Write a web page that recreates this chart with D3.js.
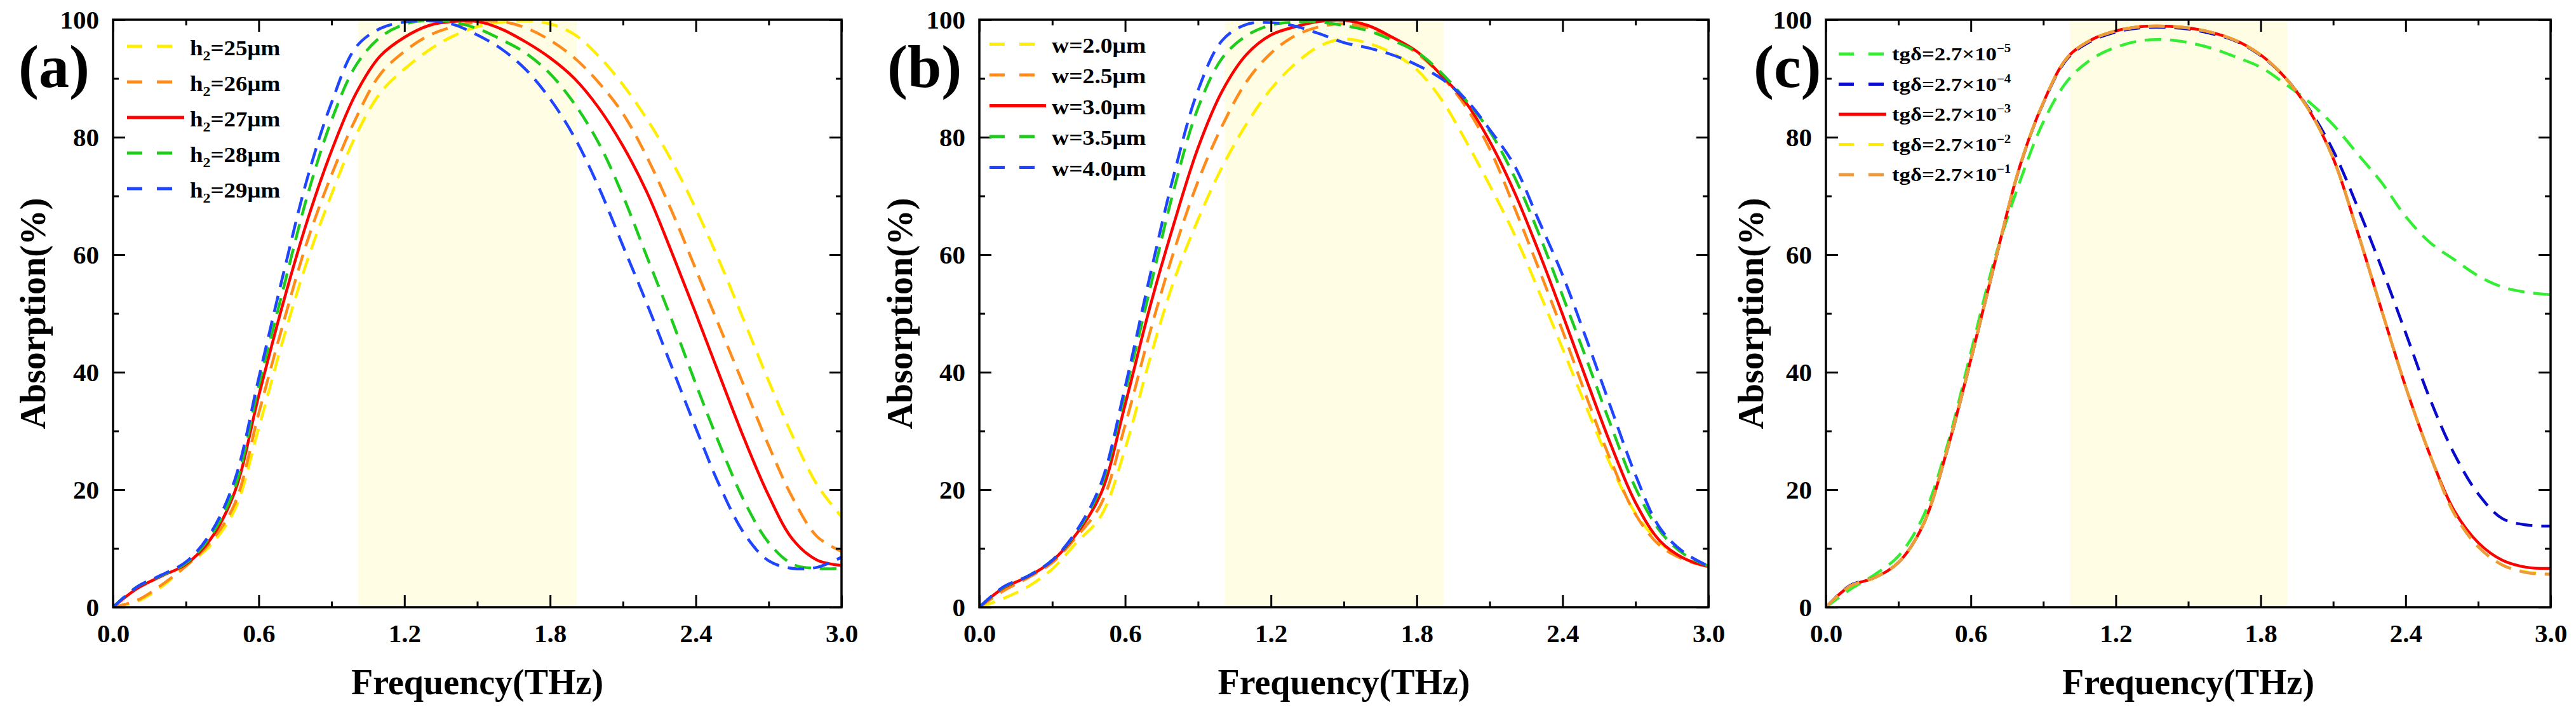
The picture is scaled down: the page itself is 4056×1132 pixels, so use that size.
<!DOCTYPE html>
<html>
<head>
<meta charset="utf-8">
<script src="https://cdn.jsdelivr.net/npm/d3@7"></script>
<style>
  body { margin: 0; background: #fff; }
</style>
</head>
<body>
<svg id="chart"></svg>
<script>
// frequency grid (THz) shared by every curve
var FREQ = [0, 0.1, 0.2, 0.3, 0.4, 0.5, 0.6, 0.7, 0.8, 0.9, 1.0, 1.1, 1.2, 1.3, 1.4, 1.5,
    1.6, 1.7, 1.8, 1.9, 2.0, 2.1, 2.2, 2.3, 2.4, 2.5, 2.6, 2.7, 2.8, 2.9, 3.0];
var X_TICKS = [0, 0.6, 1.2, 1.8, 2.4, 3.0];
var X_MINOR = [0.3, 0.9, 1.5, 2.1, 2.7];
var Y_TICKS = [0, 20, 40, 60, 80, 100];
var Y_MINOR = [10, 30, 50, 70, 90];
var BAND = [1.01, 1.91];

/* (a) thickness h2 */
var A_LABELS = ["h_{2}=25μm", "h_{2}=26μm", "h_{2}=27μm", "h_{2}=28μm", "h_{2}=29μm"];
var A_H25 = [0, 1.0, 3.5, 7.0, 10.5, 16.5, 30.5, 45.5, 59.0, 70.3, 80.3, 87.5, 91.6, 94.8, 97.2, 98.8,
    99.6, 99.8, 99.3, 97.5, 93.8, 88.9, 83.0, 76.0, 67.8, 58.6, 48.6, 38.5, 29.0, 20.8, 15.4];
var A_H26 = [0, 1.2, 3.8, 7.0, 11.0, 17.5, 33.0, 48.2, 62.3, 73.6, 83.2, 90.7, 94.6, 97.3, 98.8, 99.6,
    99.7, 98.6, 96.5, 93.5, 89.3, 84.0, 76.5, 67.5, 57.5, 47.5, 37.5, 27.5, 18.5, 12.0, 9.5];
var A_H27 = [0, 3.2, 5.3, 7.3, 11.5, 19.5, 36.0, 51.7, 65.8, 77.7, 87.4, 93.8, 97.0, 99.0, 99.7, 99.7,
    98.4, 96.2, 93.5, 90.0, 85.0, 78.5, 70.5, 60.5, 50.0, 39.2, 28.6, 19.0, 11.5, 8.0, 7.1];
var A_H28 = [0, 3.5, 5.4, 7.5, 12.0, 20.2, 37.7, 54.0, 70.0, 82.9, 92.2, 97.0, 99.2, 99.9, 99.6, 98.5,
    96.6, 94.3, 90.8, 85.7, 79.0, 70.0, 59.5, 49.0, 38.0, 27.5, 18.0, 11.0, 7.3, 6.6, 6.6];
var A_H29 = [0, 3.5, 5.5, 7.7, 12.5, 21.5, 39.0, 56.5, 73.0, 85.9, 95.3, 98.5, 99.6, 99.8, 99.2, 97.4,
    95.0, 91.5, 86.5, 80.0, 71.5, 61.5, 51.5, 41.0, 30.5, 20.5, 12.5, 7.9, 6.6, 6.8, 8.5];

/* (b) width w */
var B_LABELS = ["w=2.0μm", "w=2.5μm", "w=3.0μm", "w=3.5μm", "w=4.0μm"];
var B_W20 = [0, 1.5, 3.5, 6.5, 11.0, 15.5, 27.0, 42.0, 55.5, 66.0, 75.0, 82.3, 88.2, 92.5, 95.5, 96.7,
    96.0, 94.3, 91.5, 86.5, 79.5, 71.8, 63.6, 54.0, 44.0, 33.8, 24.0, 16.0, 11.0, 8.3, 6.9];
var B_W25 = [0, 2.8, 5.0, 7.6, 12.0, 17.5, 31.0, 46.5, 60.5, 72.5, 82.0, 89.5, 94.3, 97.3, 98.8, 99.3,
    98.6, 96.8, 94.3, 90.5, 85.3, 78.0, 68.2, 57.8, 47.0, 35.6, 24.8, 15.8, 10.5, 8.1, 6.9];
var B_W30 = [0, 3.3, 5.2, 7.9, 12.5, 19.3, 34.5, 50.8, 65.2, 78.2, 87.9, 94.1, 97.4, 98.8, 99.7, 99.9,
    99.0, 97.0, 94.6, 90.6, 86.0, 79.3, 70.8, 60.7, 49.8, 38.5, 27.5, 17.8, 11.3, 8.3, 6.9];
var B_W35 = [0, 3.4, 5.3, 8.0, 12.8, 20.5, 36.5, 53.8, 71.0, 85.0, 93.5, 97.3, 99.1, 99.6, 99.6, 99.0,
    98.1, 96.5, 94.5, 91.0, 86.4, 81.0, 73.4, 63.8, 53.0, 42.0, 30.8, 20.3, 13.0, 9.0, 7.0];
var B_W40 = [0, 3.5, 5.3, 8.0, 13.0, 21.0, 37.5, 56.0, 73.5, 88.0, 96.5, 99.2, 99.5, 98.9, 97.6, 96.1,
    95.2, 94.0, 92.3, 90.0, 86.5, 81.3, 75.3, 66.0, 56.5, 45.4, 33.8, 22.5, 13.5, 9.3, 7.0];

/* (c) loss tangent */
var C_LABELS = ["tgδ=2.7×10^{−5}", "tgδ=2.7×10^{−4}", "tgδ=2.7×10^{−3}", "tgδ=2.7×10^{−2}", "tgδ=2.7×10^{−1}"];
var C_T5 = [0, 3.0, 5.5, 8.7, 15.2, 27.2, 43.4, 59.5, 72.1, 82.6, 89.6, 93.3, 95.3, 96.4, 96.6, 96.1,
    95.1, 93.6, 91.9, 89.1, 86.0, 82.1, 77.2, 72.3, 66.5, 62.1, 59.2, 56.4, 54.5, 53.6, 53.2];
var C_T4 = [0, 3.7, 5.0, 7.6, 13.8, 26.4, 42.1, 58.7, 74.6, 85.8, 93.4, 96.4, 97.9, 98.6, 98.7, 98.4,
    97.6, 96.3, 93.9, 90.2, 84.8, 77.7, 68.2, 57.8, 46.7, 35.5, 26.2, 19.3, 15.1, 14.0, 13.8];
var C_T3 = [0, 3.6, 5.0, 7.6, 13.8, 26.5, 42.2, 58.8, 74.7, 85.9, 93.6, 96.6, 98.1, 98.8, 98.9, 98.6,
    97.8, 96.4, 94.0, 90.2, 84.6, 76.4, 64.0, 50.6, 37.5, 26.0, 16.5, 11.0, 8.0, 6.8, 6.6];
var C_T2 = [0, 3.6, 5.0, 7.6, 13.8, 26.5, 42.2, 58.8, 74.7, 85.9, 93.6, 96.6, 98.1, 98.8, 98.9, 98.6,
    97.8, 96.4, 94.0, 90.2, 84.6, 76.4, 64.0, 50.6, 37.5, 26.0, 16.0, 10.3, 7.2, 6.0, 5.7];
var C_T1 = [0, 3.6, 5.0, 7.6, 13.8, 26.5, 42.2, 58.8, 74.7, 85.9, 93.6, 96.6, 98.1, 98.8, 98.9, 98.6,
    97.8, 96.4, 94.0, 90.2, 84.6, 76.4, 64.0, 50.6, 37.5, 26.0, 16.0, 10.3, 7.2, 5.9, 5.6];

var FONT = "'Liberation Serif', 'Times New Roman', serif";
var W = 4056, H = 1132;
var TOP = 31, BOTTOM = 956;
var BAND_COLOR = "#FFFDE4";

var panels = [
    {letter: "(a)", letterX: 29, left: 178, right: 1325, ytOff: 107,
     series: [A_H25, A_H26, A_H27, A_H28, A_H29], labels: A_LABELS,
     colors: ["#FFEE00", "#FF8C1A", "#FF0000", "#1ECC1E", "#1F45FF"],
     legend: {x: 200, len: 90, tx: 299, y0: 73, step: 56, off: 14, fs: 33, sx: 1.12}},
    {letter: "(b)", letterX: 1397, left: 1542, right: 2690, ytOff: 106,
     series: [B_W20, B_W25, B_W30, B_W35, B_W40], labels: B_LABELS,
     colors: ["#FFEE00", "#FF8C1A", "#FF0000", "#1ECC1E", "#1F45FF"],
     legend: {x: 1558, len: 89, tx: 1656, y0: 69.5, step: 48.5, off: 13, fs: 33, sx: 1.14}},
    {letter: "(c)", letterX: 2761, left: 2875, right: 4016, ytOff: 99,
     series: [C_T5, C_T4, C_T3, C_T2, C_T1], labels: C_LABELS,
     colors: ["#33EE33", "#0A0ACD", "#FF0000", "#FFEE00", "#EC9A3C"],
     legend: {x: 2895, len: 75, tx: 2979, y0: 85, step: 47.5, off: 10, fs: 30, sx: 1.16}}
];
var SOLID = 2; // third entry in each panel is the solid red reference curve

var svg = d3.select("#chart").attr("width", W).attr("height", H);
svg.append("rect").attr("width", W).attr("height", H).attr("fill", "#fff");

function richText(sel, str, fs) {
    var parts = str.split(/(_\{[^}]*\}|\^\{[^}]*\})/).filter(function(s) { return s.length; });
    var shift = 0;
    parts.forEach(function(s) {
        var target = 0, size = fs;
        if (s[0] === "_") { target = 0.25 * fs; size = 0.65 * fs; s = s.slice(2, -1); }
        else if (s[0] === "^") { target = -0.42 * fs; size = 0.6 * fs; s = s.slice(2, -1); }
        sel.append("tspan").attr("font-size", size).attr("dy", target - shift).text(s);
        shift = target;
    });
}

function styleAxis(g, labels) {
    g.attr("font-family", FONT).attr("font-size", 41).attr("font-weight", "bold");
    g.select(".domain").remove();
    g.selectAll(".tick line").attr("stroke", "#000").attr("stroke-width", 3);
    g.selectAll(".tick text").attr("fill", "#000");
    if (!labels) g.selectAll(".tick text").remove();
}

function drawPanel(p, idx) {
    var x = d3.scaleLinear().domain([0, 3]).range([p.left, p.right]);
    var y = d3.scaleLinear().domain([0, 100]).range([BOTTOM, TOP]);
    var g = svg.append("g");

    g.append("clipPath").attr("id", "clip" + idx).append("rect")
        .attr("x", p.left).attr("y", TOP).attr("width", p.right - p.left).attr("height", BOTTOM - TOP);

    // highlighted band
    g.append("rect")
        .attr("x", x(BAND[0])).attr("y", TOP)
        .attr("width", x(BAND[1]) - x(BAND[0])).attr("height", BOTTOM - TOP)
        .attr("fill", BAND_COLOR);

    var line = d3.line()
        .x(function(d) { return x(d[0]); })
        .y(function(d) { return y(d[1]); })
        .curve(d3.curveCatmullRom.alpha(0.5));

    var curves = g.append("g").attr("clip-path", "url(#clip" + idx + ")");
    p.series.forEach(function(vals, i) {
        curves.append("path")
            .datum(FREQ.map(function(f, k) { return [f, vals[k]]; }))
            .attr("d", line)
            .attr("fill", "none")
            .attr("stroke", p.colors[i])
            .attr("stroke-width", 4.5)
            .attr("stroke-linejoin", "round")
            .attr("stroke-dasharray", i === SOLID ? null : "26,14");
    });

    // axes, ticks inward on all four sides
    styleAxis(g.append("g").attr("transform", "translate(0," + BOTTOM + ")")
        .call(d3.axisBottom(x).tickValues(X_TICKS).tickFormat(d3.format(".1f"))
            .tickSizeInner(-19).tickSizeOuter(0).tickPadding(26)), true);
    styleAxis(g.append("g").attr("transform", "translate(0," + BOTTOM + ")")
        .call(d3.axisBottom(x).tickValues(X_MINOR).tickSize(-9)), false);
    styleAxis(g.append("g").attr("transform", "translate(0," + TOP + ")")
        .call(d3.axisTop(x).tickValues(X_TICKS).tickSize(-19)), false);
    styleAxis(g.append("g").attr("transform", "translate(0," + TOP + ")")
        .call(d3.axisTop(x).tickValues(X_MINOR).tickSize(-9)), false);
    styleAxis(g.append("g").attr("transform", "translate(" + p.left + ",0)")
        .call(d3.axisLeft(y).tickValues(Y_TICKS).tickFormat(d3.format("d"))
            .tickSizeInner(-19).tickSizeOuter(0).tickPadding(22)), true);
    styleAxis(g.append("g").attr("transform", "translate(" + p.left + ",0)")
        .call(d3.axisLeft(y).tickValues(Y_MINOR).tickSize(-9)), false);
    styleAxis(g.append("g").attr("transform", "translate(" + p.right + ",0)")
        .call(d3.axisRight(y).tickValues(Y_TICKS).tickSize(-19)), false);
    styleAxis(g.append("g").attr("transform", "translate(" + p.right + ",0)")
        .call(d3.axisRight(y).tickValues(Y_MINOR).tickSize(-9)), false);

    g.append("rect")
        .attr("x", p.left).attr("y", TOP)
        .attr("width", p.right - p.left).attr("height", BOTTOM - TOP)
        .attr("fill", "none").attr("stroke", "#000").attr("stroke-width", 3.5);

    // axis titles
    g.append("text")
        .attr("x", (p.left + p.right) / 2).attr("y", 1093)
        .attr("text-anchor", "middle")
        .attr("font-family", FONT).attr("font-weight", "bold").attr("font-size", 56)
        .text("Frequency(THz)");
    g.append("text")
        .attr("transform", "translate(" + (p.left - p.ytOff) + "," + ((TOP + BOTTOM) / 2) + ") rotate(-90)")
        .attr("text-anchor", "middle")
        .attr("font-family", FONT).attr("font-weight", "bold").attr("font-size", 56)
        .text("Absorption(%)");

    // panel letter
    g.append("text")
        .attr("x", p.letterX).attr("y", 137)
        .attr("font-family", FONT).attr("font-weight", "bold").attr("font-size", 96)
        .text(p.letter);

    // legend
    var L = p.legend;
    p.labels.forEach(function(lab, i) {
        var ry = L.y0 + i * L.step;
        g.append("line")
            .attr("x1", L.x).attr("x2", L.x + L.len)
            .attr("y1", ry).attr("y2", ry)
            .attr("stroke", p.colors[i]).attr("stroke-width", 5)
            .attr("stroke-dasharray", i === SOLID ? null : "24,23");
        var t = g.append("text")
            .attr("transform", "translate(" + L.tx + "," + (ry + L.off) + ") scale(" + L.sx + ",1)")
            .attr("font-family", FONT).attr("font-weight", "bold").attr("font-size", L.fs);
        richText(t, lab, L.fs);
    });
}

panels.forEach(drawPanel);
</script>
</body>
</html>
